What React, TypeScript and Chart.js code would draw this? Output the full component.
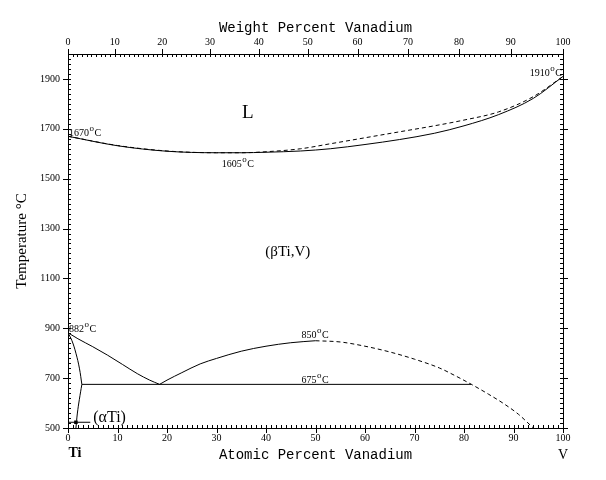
import React, { useEffect, useRef } from "react";
import { Chart, registerables } from "chart.js";
Chart.register(...registerables);

// ---- data (atomic % V, temperature °C) ----
const atomicTicks = [0, 10, 20, 30, 40, 50, 60, 70, 80, 90, 100];
const weightTicks = [0, 10, 20, 30, 40, 50, 60, 70, 80, 90, 100];
const tempTicks = [500, 700, 900, 1100, 1300, 1500, 1700, 1900];

const liquidus = [[0, 1670], [10, 1633], [20, 1611], [30, 1604], [35, 1604], [40, 1608], [47, 1620], [53, 1640], [60, 1664], [67, 1688], [74, 1712], [80, 1735], [87, 1768], [94, 1829], [100, 1910]];
const solidus = [[0, 1670], [10, 1632], [20, 1610], [30, 1604], [35, 1604], [40, 1606], [47, 1611], [53, 1620], [60, 1637], [67, 1657], [74, 1682], [80, 1712], [87, 1757], [94, 1822], [100, 1910]];
const betaTransus = [[0, 882], [2, 858], [5, 826], [8, 792], [11, 755], [14, 718], [16.5, 692], [18.5, 675]];
const gapSolid = [[18.5, 675], [20, 692], [23, 722], [26.7, 757], [30, 779], [35, 808], [40, 828], [45, 842], [50, 850]];
const gapDashed = [[50, 850], [55, 845], [60, 828], [65, 805], [70, 776], [75, 741], [78, 712], [81.5, 675], [85, 635], [88, 598], [91, 555], [94, 500]];
const alphaUpper = [[0, 882], [0.8, 850], [1.6, 800], [2.3, 740], [2.8, 675]];
const alphaLower = [[2.8, 675], [2.3, 615], [1.9, 560], [1.6, 500]];
const monotectoid = [[2.8, 675], [81.5, 675]];
const alphaLeader = [[0, 523], [4.5, 523]];
const alphaMarker = [[1.6, 523]];

const tempLabels = [
  { num: "1670", x: 0.2, t: 1683, align: "left" },
  { num: "1605", x: 34.3, t: 1559, align: "center" },
  { num: "1910", x: 99.8, t: 1924, align: "right" },
  { num: "882", x: 0.2, t: 897, align: "left" },
  { num: "850", x: 49.9, t: 873, align: "center" },
  { num: "675", x: 49.9, t: 693, align: "center" },
];
const phaseLabels = [
  { text: "L", x: 36.3, t: 1763, size: 19, align: "center" },
  { text: "(βTi,V)", x: 44.4, t: 1206, size: 15, align: "center" },
  { text: "(αTi)", x: 5.1, t: 540, size: 16, align: "left" },
  { text: "Ti", x: 1.4, t: 400, size: 14, align: "center", bold: true },
  { text: "V", x: 100, t: 392, size: 14, align: "center" },
];

const wtToAt = (w: number) => {
  const v = w / 50.9415;
  const ti = (100 - w) / 47.867;
  return (100 * v) / (v + ti);
};

const pts = (a: number[][]) => a.map(([x, y]) => ({ x, y }));

const line = (a: number[][], dashed = false, mono = true) => ({
  type: "scatter" as const,
  data: pts(a),
  showLine: true,
  borderColor: "#000",
  borderWidth: 1,
  pointRadius: 0,
  borderDash: dashed ? [4, 3] : [],
  cubicInterpolationMode: mono ? ("monotone" as const) : ("default" as const),
  tension: mono ? 0 : 0.4,
  fill: false,
});

const SERIF = "'Liberation Serif', 'Times New Roman', serif";
const MONO = "'Liberation Mono', 'Courier New', monospace";

const decorPlugin = {
  id: "decor",
  afterDraw(chart: any) {
    const { ctx, chartArea: a } = chart;
    const xs = chart.scales.x;
    const ys = chart.scales.y;
    ctx.save();
    ctx.strokeStyle = "#000";
    ctx.lineWidth = 1;
    ctx.beginPath();
    // bottom axis
    for (let v = 0; v <= 100; v += 1) {
      const px = Math.round(xs.getPixelForValue(v)) + 0.5;
      if (v % 10 === 0) {
        ctx.moveTo(px, a.bottom - 3);
        ctx.lineTo(px, a.bottom + 5);
      } else {
        ctx.moveTo(px, a.bottom);
        ctx.lineTo(px, a.bottom - 3);
      }
    }
    // top axis (weight percent)
    for (let w = 0; w <= 100; w += 1) {
      const px = Math.round(xs.getPixelForValue(wtToAt(w))) + 0.5;
      if (w % 10 === 0) {
        ctx.moveTo(px, a.top + 3);
        ctx.lineTo(px, a.top - 5);
      } else {
        ctx.moveTo(px, a.top);
        ctx.lineTo(px, a.top + 3);
      }
    }
    // left / right axes
    for (let t = 500; t <= 2000; t += 20) {
      const py = Math.round(ys.getPixelForValue(t)) + 0.5;
      if ((t - 500) % 200 === 0 && t < 2000) {
        ctx.moveTo(a.left - 5, py);
        ctx.lineTo(a.left + 3, py);
        ctx.moveTo(a.right + 5, py);
        ctx.lineTo(a.right - 3, py);
      } else {
        ctx.moveTo(a.left, py);
        ctx.lineTo(a.left + 3, py);
        ctx.moveTo(a.right, py);
        ctx.lineTo(a.right - 3, py);
      }
    }
    ctx.stroke();

    // temperature labels with superscript o
    ctx.fillStyle = "#000";
    ctx.textBaseline = "middle";
    for (const l of tempLabels) {
      const big = `10px ${SERIF}`;
      const small = `9px ${SERIF}`;
      ctx.font = big;
      const wNum = ctx.measureText(l.num).width;
      const wC = ctx.measureText("C").width;
      ctx.font = small;
      const wO = ctx.measureText("o").width;
      const total = wNum + wO + wC + 1;
      const px = xs.getPixelForValue(l.x);
      const py = ys.getPixelForValue(l.t);
      let x0 = px;
      if (l.align === "center") x0 = px - total / 2;
      else if (l.align === "right") x0 = px - total;
      ctx.textAlign = "left";
      ctx.font = big;
      ctx.fillText(l.num, x0, py);
      ctx.font = small;
      ctx.fillText("o", x0 + wNum + 0.5, py - 4);
      ctx.font = big;
      ctx.fillText("C", x0 + wNum + wO + 1, py);
    }
    for (const l of phaseLabels) {
      ctx.font = `${l.bold ? "bold " : ""}${l.size}px ${SERIF}`;
      ctx.textAlign = l.align as CanvasTextAlign;
      ctx.fillText(l.text, xs.getPixelForValue(l.x), ys.getPixelForValue(l.t));
    }
    ctx.restore();
  },
};

const tickFont = { family: SERIF, size: 10 };

export default function App() {
  const ref = useRef<HTMLCanvasElement>(null);
  useEffect(() => {
    const chart = new Chart(ref.current as HTMLCanvasElement, {
      type: "scatter",
      data: {
        datasets: [
          line(liquidus, true),
          line(solidus),
          line(betaTransus),
          line(gapSolid),
          line(gapDashed, true),
          line(alphaUpper, false, false),
          line(alphaLower, false, false),
          line(monotectoid),
          line(alphaLeader),
          {
            type: "scatter",
            data: pts(alphaMarker),
            pointStyle: "rect",
            pointRadius: 2.5,
            backgroundColor: "#000",
            borderColor: "#000",
            borderWidth: 0,
          },
        ] as any,
      },
      options: {
        animation: false,
        responsive: true,
        maintainAspectRatio: false,
        layout: { padding: 0 },
        plugins: { legend: { display: false }, tooltip: { enabled: false } },
        events: [],
        scales: {
          x: {
            type: "linear",
            axis: "x",
            position: "bottom",
            min: 0,
            max: 100,
            afterBuildTicks: (s: any) => { s.ticks = atomicTicks.map((v) => ({ value: v })); },
            afterFit: (s: any) => { s.height = 52; },
            ticks: { font: tickFont, color: "#000", padding: 4, maxRotation: 0, autoSkip: false, callback: (v: any) => String(v) },
            grid: { display: false, drawTicks: false },
            border: { display: true, color: "#000", width: 1 },
            title: { display: true, text: "Atomic Percent Vanadium", color: "#000", font: { family: MONO, size: 14 }, padding: { top: 0, bottom: 16 } },
          },
          x2: {
            type: "linear",
            axis: "x",
            position: "top",
            min: 0,
            max: 100,
            afterBuildTicks: (s: any) => { s.ticks = weightTicks.map((w) => ({ value: wtToAt(w) })); },
            afterFit: (s: any) => { s.height = 54; },
            ticks: { font: tickFont, color: "#000", padding: 6, maxRotation: 0, autoSkip: false, callback: (_v: any, i: number) => String(weightTicks[i]) },
            grid: { display: false, drawTicks: false },
            border: { display: true, color: "#000", width: 1 },
            title: { display: true, text: "Weight Percent Vanadium", color: "#000", font: { family: MONO, size: 14 }, padding: { top: 20, bottom: 0 } },
          },
          y: {
            type: "linear",
            axis: "y",
            position: "left",
            min: 500,
            max: 2000,
            afterBuildTicks: (s: any) => { s.ticks = tempTicks.map((v) => ({ value: v })); },
            afterFit: (s: any) => { s.width = 68; },
            ticks: { font: tickFont, color: "#000", padding: 8, autoSkip: false, callback: (v: any) => String(v) },
            grid: { display: false, drawTicks: false },
            border: { display: true, color: "#000", width: 1 },
            title: { display: true, text: "Temperature °C", color: "#000", font: { family: SERIF, size: 15 }, padding: { top: 13, bottom: 0 } },
          },
          y2: {
            type: "linear",
            axis: "y",
            position: "right",
            min: 500,
            max: 2000,
            afterFit: (s: any) => { s.width = 43; },
            ticks: { display: false },
            grid: { display: false, drawTicks: false },
            border: { display: true, color: "#000", width: 1 },
          },
        },
      } as any,
      plugins: [decorPlugin],
    });
    return () => chart.destroy();
  }, []);
  return (
    <div style={{ position: "absolute", left: 0, top: 0, width: 606, height: 480, background: "#fff" }}>
      <canvas ref={ref} />
    </div>
  );
}
